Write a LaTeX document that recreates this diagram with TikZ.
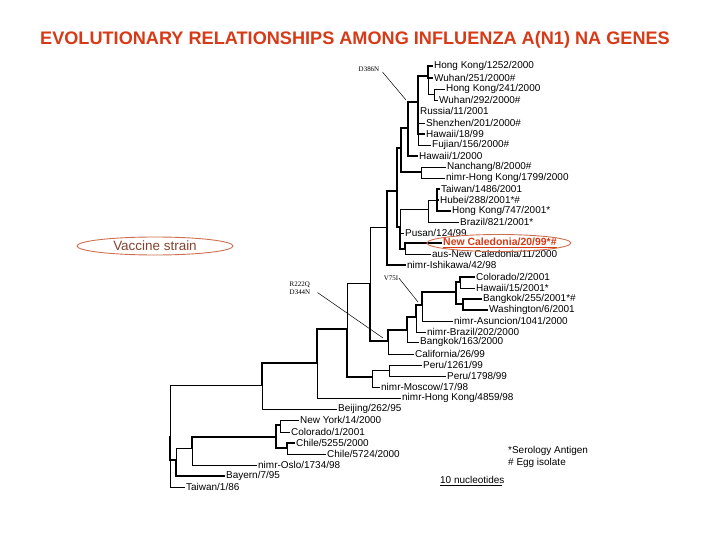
\documentclass[tikz,border=0pt]{standalone}
\usepackage{fontspec}
\setmainfont{Liberation Sans}
\newfontfamily\mutfont{Liberation Serif}
\definecolor{titlered}{RGB}{214, 58, 22}
\definecolor{ringred}{RGB}{205, 110, 80}
\definecolor{vaccbrown}{RGB}{135, 65, 45}
\usepackage{tikz}
\usetikzlibrary{shapes.geometric, positioning}

\begin{document}
\begin{tikzpicture}[x=1bp, y=-1bp,
    leaf/.style={anchor=west, inner sep=1bp, font=\fontsize{10}{12}\selectfont},
    mut/.style={inner sep=0.5bp, font=\mutfont\fontsize{7}{8}\selectfont},
    branch/.style={line width=0.8bp},
    boldbranch/.style={line width=2bp},
    pointer/.style={line width=0.5bp},
    ring/.style={draw=ringred, line width=0.9bp}]
  \useasboundingbox (0,0) rectangle (720,540);

  \node[font=\bfseries\fontsize{18.2}{20}\selectfont, text=titlered] (title) at (355,40)
    {EVOLUTIONARY RELATIONSHIPS AMONG INFLUENZA A(N1) NA GENES};

  % inner nodes of the tree
  \coordinate (root) at (170,436);
  \coordinate (A) at (176,460);
  \coordinate (C) at (192,448);
  \coordinate (D) at (276,437);
  \coordinate (E) at (280,425);
  \coordinate (F) at (287,448);
  \coordinate (G) at (262,385);
  \coordinate (H) at (317,363);
  \coordinate (I) at (347,329);
  \coordinate (K) at (372,377);
  \coordinate (L) at (389,370);
  \coordinate (J) at (370,283);
  \coordinate (N) at (388,341);
  \coordinate (O) at (407,330);
  \coordinate (P) at (416,317);
  \coordinate (Q) at (422,305);
  \coordinate (R) at (456,292);
  \coordinate (S) at (460,282);
  \coordinate (T) at (463,304);
  \coordinate (M) at (387,227);
  \coordinate (Z) at (397,191);
  \coordinate (X) at (401,148);
  \coordinate (W) at (408,128);
  \coordinate (V) at (418,102);
  \coordinate (U) at (428,76);
  \coordinate (U2) at (434,94);
  \coordinate (Y) at (421,172);
  \coordinate (AA) at (400,227);
  \coordinate (BB) at (428,209);
  \coordinate (DD) at (437,200);
  \coordinate (CC) at (405,249);

  % strains
  \node[leaf] (hk1252) at (433,66) {Hong Kong/1252/2000};
  \node[leaf] (wuh251) at (433,78) {Wuhan/251/2000\#};
  \node[leaf] (hk241) at (445,89) {Hong Kong/241/2000};
  \node[leaf] (wuh292) at (438,100) {Wuhan/292/2000\#};
  \node[leaf] (rus11) at (419,111) {Russia/11/2001};
  \node[leaf] (shz201) at (425,123) {Shenzhen/201/2000\#};
  \node[leaf] (haw18) at (425,134) {Hawaii/18/99};
  \node[leaf] (fuj156) at (431,145) {Fujian/156/2000\#};
  \node[leaf] (haw1) at (418,156) {Hawaii/1/2000};
  \node[leaf] (nan8) at (446,167) {Nanchang/8/2000\#};
  \node[leaf] (hk1799) at (445,178) {nimr-Hong Kong/1799/2000};
  \node[leaf] (tw1486) at (440,189) {Taiwan/1486/2001};
  \node[leaf] (hub288) at (439,200) {Hubei/288/2001*\#};
  \node[leaf] (hk747) at (451,211) {Hong Kong/747/2001*};
  \node[leaf] (bra821) at (459,222) {Brazil/821/2001*};
  \node[leaf] (pus124) at (404,233) {Pusan/124/99};
  \node[leaf, font=\bfseries\fontsize{10.5}{12}\selectfont, text=titlered] (nc20) at (442,243) {\underline{New Caledonia/20/99*\#}};
  \node[leaf] (nc11) at (431,254) {aus-New Caledonia/11/2000};
  \node[leaf] (ish42) at (406,265) {nimr-Ishikawa/42/98};
  \node[leaf] (col2) at (475,277) {Colorado/2/2001};
  \node[leaf] (haw15) at (475,288) {Hawaii/15/2001*};
  \node[leaf] (bkk255) at (482,299) {Bangkok/255/2001*\#};
  \node[leaf] (was6) at (488,310) {Washington/6/2001};
  \node[leaf] (asu1041) at (453,321) {nimr-Asuncion/1041/2000};
  \node[leaf] (bra202) at (426,332) {nimr-Brazil/202/2000};
  \node[leaf] (bkk163) at (419,342) {Bangkok/163/2000};
  \node[leaf] (cal26) at (414,354) {California/26/99};
  \node[leaf] (per1261) at (422,365) {Peru/1261/99};
  \node[leaf] (per1798) at (446,376) {Peru/1798/99};
  \node[leaf] (mos17) at (380,387) {nimr-Moscow/17/98};
  \node[leaf] (hk4859) at (401,398) {nimr-Hong Kong/4859/98};
  \node[leaf] (bei262) at (337,409) {Beijing/262/95};
  \node[leaf] (ny14) at (299,420) {New York/14/2000};
  \node[leaf] (col1) at (290,432) {Colorado/1/2001};
  \node[leaf] (chi5255) at (295,443) {Chile/5255/2000};
  \node[leaf] (chi5724) at (326,454) {Chile/5724/2000};
  \node[leaf] (osl1734) at (257,465) {nimr-Oslo/1734/98};
  \node[leaf] (bay7) at (225,476) {Bayern/7/95};
  \node[leaf] (tw1) at (185,487) {Taiwan/1/86};

  % branches
  \draw[branch] (root) |- (G) (root) |- (tw1.west);
  \draw[boldbranch] (root) |- (A) (A) |- (bay7.west);
  \draw[branch] (A) |- (C) (C) |- (osl1734.west);
  \draw[boldbranch] (C) |- (D) (D) |- (E) (D) |- (F) (F) |- (chi5255.west);
  \draw[branch] (E) |- (ny14.west) (E) |- (col1.west) (F) |- (chi5724.west);
  \draw[boldbranch] (G) |- (H) (H) |- (I) (I) |- (K);
  \draw[branch] (G) |- (bei262.west) (H) |- (hk4859.west) (I) |- (J);
  \draw[branch] (K) |- (L) (K) |- (mos17.west) (L) |- (per1261.west) (L) |- (per1798.west);
  \draw[boldbranch] (J) |- (N) (N) |- (O) (O) |- (P);
  \draw[branch] (N) |- (cal26.west) (O) |- (bkk163.west) (P) |- (bra202.west);
  \draw[boldbranch] (P) |- (Q) (Q) |- (R);
  \draw[branch] (Q) |- (asu1041.west);
  \draw[boldbranch] (R) |- (S) (S) |- (col2.west) (R) |- (T) (T) |- (bkk255.west) (T) |- (was6.west);
  \draw[branch] (S) |- (haw15.west);
  \draw[branch] (J) |- (M);
  \draw[boldbranch] (M) |- (Z) (M) |- (ish42.west) (Z) |- (X) (Z) |- (AA);
  \draw[boldbranch] (X) |- (W) (X) |- (Y) (W) |- (V) (W) |- (haw1.west);
  \draw[branch] (Y) |- (nan8.west) (Y) |- (hk1799.west);
  \draw[boldbranch] (V) |- (U) (U) |- (hk1252.west) (U) |- (wuh251.west) (V) |- (haw18.west);
  \draw[branch] (U) |- (U2) (U2) |- (hk241.west) (U2) |- (wuh292.west);
  \draw[branch] (V) |- (rus11.west) (V) |- (shz201.west) (V) |- (fuj156.west);
  \draw[branch] (AA) |- (BB) (AA) |- (pus124.west) (BB) |- (DD) (BB) |- (bra821.west);
  \draw[boldbranch] (DD) |- (tw1486.west) (DD) |- (hub288.west) (DD) |- (hk747.west);
  \draw[boldbranch] (AA) |- (CC) (CC) |- (nc20.west);
  \draw[branch] (CC) |- (nc11.west);

  % vaccine strain marks
  \draw[ring] ([xshift=-1bp]nc20.center) ellipse [x radius=72bp, y radius=8.5bp];
  \node[ellipse, ring, minimum width=156bp, minimum height=18bp, inner sep=0pt,
    text=vaccbrown, font=\fontsize{13.5}{15}\selectfont] (vaccine) at (155,246) {Vaccine strain};

  % amino acid changes
  \coordinate (vtip) at (406,100);
  \coordinate (rtip) at (418,302);
  \coordinate (ntip) at (383,338);
  \node[mut] (d386n) at (369,69) {D386N};
  \node[mut] (v75i) at (391,278) {V75I};
  \node[mut, align=left] (r222q) at (300,288) {R222Q\\D344N};
  \draw[pointer, shorten <=4bp] (d386n.east) -- (vtip);
  \draw[pointer] (v75i.east) -- (rtip);
  \draw[pointer, shorten <=8bp] (r222q.east) -- (ntip);

  % key and scale
  \node[leaf] (serol) at (507,451) {*Serology Antigen};
  \node[leaf] (egg) at (507,463) {\# Egg isolate};
  \node[leaf] (scale) at (439,480) {10 nucleotides};
  \coordinate (sbl) at (440,485);
  \coordinate (sbr) at (502,485);
  \draw[branch] (sbl) -- (sbr);
\end{tikzpicture}
\end{document}
